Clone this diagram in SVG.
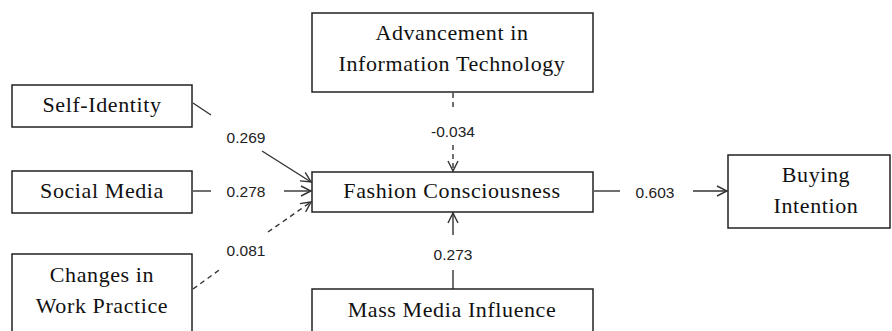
<svg xmlns="http://www.w3.org/2000/svg" width="892" height="331" viewBox="0 0 892 331">
<defs>
<marker id="arr" viewBox="0 0 12 12" refX="11" refY="6" markerWidth="12" markerHeight="12" markerUnits="userSpaceOnUse" orient="auto">
<path d="M1,1 L11,6 L1,11" fill="none" stroke="#333" stroke-width="1.4"/>
</marker>
<style>
.box{fill:#fff;stroke:#222;stroke-width:1.5}
.t{font-family:"Liberation Serif","Times New Roman",serif;font-size:22px;letter-spacing:0.6px;fill:#111;text-anchor:middle}
.lbl{font-family:"Liberation Sans",Arial,sans-serif;font-size:15.5px;fill:#222;text-anchor:middle}
.ln{stroke:#333;stroke-width:1.4;fill:none}
.dash{stroke-dasharray:5,4}
</style>
</defs>
<rect width="892" height="331" fill="#fff"/>
<g id="connectors">
<line class="ln" x1="193" y1="103" x2="211" y2="115"/>
<line class="ln" x1="262" y1="151" x2="311" y2="182" marker-end="url(#arr)"/>
<line class="ln" x1="193" y1="191" x2="211" y2="191"/>
<line class="ln" x1="284" y1="191" x2="311" y2="191" marker-end="url(#arr)"/>
<line class="ln dash" x1="193" y1="289" x2="222" y2="268"/>
<line class="ln dash" x1="268" y1="232" x2="311" y2="202" marker-end="url(#arr)"/>
<line class="ln dash" x1="453" y1="93" x2="453" y2="110"/>
<line class="ln dash" x1="453" y1="145" x2="453" y2="171" marker-end="url(#arr)"/>
<line class="ln" x1="453" y1="289" x2="453" y2="270"/>
<line class="ln" x1="453" y1="235" x2="453" y2="213" marker-end="url(#arr)"/>
<line class="ln" x1="594" y1="191" x2="620" y2="191"/>
<line class="ln" x1="693" y1="191" x2="727" y2="191" marker-end="url(#arr)"/>
<text class="lbl" x="246" y="143">0.269</text>
<text class="lbl" x="246" y="197">0.278</text>
<text class="lbl" x="246" y="256">0.081</text>
<text class="lbl" x="453" y="137">-0.034</text>
<text class="lbl" x="453" y="260">0.273</text>
<text class="lbl" x="655" y="198">0.603</text>
</g>
<g id="self-identity">
<rect class="box" x="12" y="85" width="180" height="42"/>
<text class="t" x="102" y="112">Self-Identity</text>
</g>
<g id="social-media">
<rect class="box" x="12" y="171" width="180" height="42"/>
<text class="t" x="102" y="198">Social Media</text>
</g>
<g id="changes-work-practice">
<rect class="box" x="12" y="254" width="180" height="82"/>
<text class="t" x="102" y="282">Changes in</text>
<text class="t" x="102" y="313">Work Practice</text>
</g>
<g id="advancement-it">
<rect class="box" x="312" y="13" width="281" height="79"/>
<text class="t" x="452" y="40">Advancement in</text>
<text class="t" x="452" y="71">Information Technology</text>
</g>
<g id="fashion-consciousness">
<rect class="box" x="312" y="172" width="281" height="40"/>
<text class="t" x="452" y="198">Fashion Consciousness</text>
</g>
<g id="mass-media-influence">
<rect class="box" x="312" y="289" width="281" height="47"/>
<text class="t" x="452" y="317">Mass Media Influence</text>
</g>
<g id="buying-intention">
<rect class="box" x="728" y="155" width="162" height="73"/>
<text class="t" x="816" y="182">Buying</text>
<text class="t" x="816" y="213">Intention</text>
</g>
</svg>
